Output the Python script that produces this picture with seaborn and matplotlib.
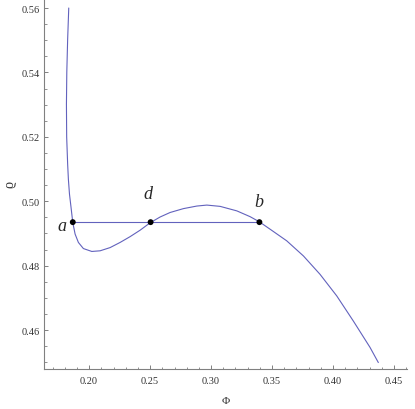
import numpy as np
import pandas as pd
import matplotlib
matplotlib.use("Agg")
import matplotlib.pyplot as plt
from matplotlib.ticker import MultipleLocator
import seaborn as sns

# curve (phi, rho)
phi = [0.1833, 0.1824, 0.1817, 0.1814, 0.1816, 0.1824, 0.1830, 0.1839, 0.1852,
       0.1866, 0.1885, 0.1912, 0.1953, 0.2022, 0.2090, 0.2172, 0.2254, 0.2336,
       0.2418, 0.2500, 0.2582, 0.2664, 0.2773, 0.2883, 0.2965, 0.3074, 0.3211,
       0.3320, 0.3396, 0.3484, 0.3620, 0.3757, 0.3893, 0.4030, 0.4166, 0.4303,
       0.4371]
rho = [0.5600, 0.5503, 0.5401, 0.5301, 0.5199, 0.5115, 0.5068, 0.5022, 0.4980,
       0.4934, 0.4898, 0.4872, 0.4853, 0.4844, 0.4846, 0.4856, 0.4872, 0.4890,
       0.4910, 0.4933, 0.4951, 0.4965, 0.4977, 0.4985, 0.4988, 0.4984, 0.4970,
       0.4952, 0.4936, 0.4913, 0.4877, 0.4830, 0.4773, 0.4706, 0.4628, 0.4546,
       0.4499]

# marked points a, d, b on the tie line
pt_names = ["a", "d", "b"]
pt_phi = [0.1866, 0.2504, 0.3396]
pt_rho = [0.4935, 0.4935, 0.4935]
label_phi = [0.1776, 0.2481, 0.3393]
label_rho = [0.4926, 0.5025, 0.4999]

curve = pd.DataFrame({"phi": phi, "rho": rho})
pts = pd.DataFrame({"phi": pt_phi, "rho": pt_rho, "name": pt_names})

sns.set_theme(style="ticks")
plt.rcParams["font.family"] = ["Liberation Serif", "DejaVu Serif"]

fig = plt.figure(figsize=(4.15, 4.10), dpi=100)
ax = fig.add_axes([0.106, 0.0976, 0.875, 0.9024])

line_col = "#6262bd"
sns.lineplot(data=curve, x="phi", y="rho", sort=False, estimator=None,
             color=line_col, linewidth=0.8, ax=ax)
ax.plot([pt_phi[0], pt_phi[-1]], [pt_rho[0], pt_rho[-1]], color=line_col, linewidth=0.8)
sns.scatterplot(data=pts, x="phi", y="rho", color="black", s=18, edgecolor="none",
                zorder=5, ax=ax)

for name, x, y in zip(pt_names, label_phi, label_rho):
    ax.text(x, y, name, fontsize=13, style="italic", ha="center", va="center")

ax.set_xlim(0.163, 0.4607)
ax.set_ylim(0.4479, 0.5628)
ax.set_xticks([0.20, 0.25, 0.30, 0.35, 0.40, 0.45])
ax.set_xticklabels(["0.20", "0.25", "0.30", "0.35", "0.40", "0.45"])
ax.set_yticks([0.46, 0.48, 0.50, 0.52, 0.54, 0.56])
ax.set_yticklabels(["0.46", "0.48", "0.50", "0.52", "0.54", "0.56"])
ax.xaxis.set_minor_locator(MultipleLocator(0.01))
ax.yaxis.set_minor_locator(MultipleLocator(0.005))

sns.despine(ax=ax)
for s in ["left", "bottom"]:
    ax.spines[s].set_color("#808080")
    ax.spines[s].set_linewidth(0.8)
ax.tick_params(which="major", direction="in", length=3, width=0.7, color="#808080",
               labelsize=7.5, labelcolor="#333333")
ax.tick_params(which="minor", direction="in", length=1.8, width=0.6, color="#808080")
ax.tick_params(axis="x", pad=5)
ax.tick_params(axis="y", pad=3)

ax.set_xlabel("Φ", fontsize=8, labelpad=8, color="#333333")
ax.set_ylabel("ϱ", fontsize=10, labelpad=4, color="#333333")

fig.savefig("out.png", dpi=100)
